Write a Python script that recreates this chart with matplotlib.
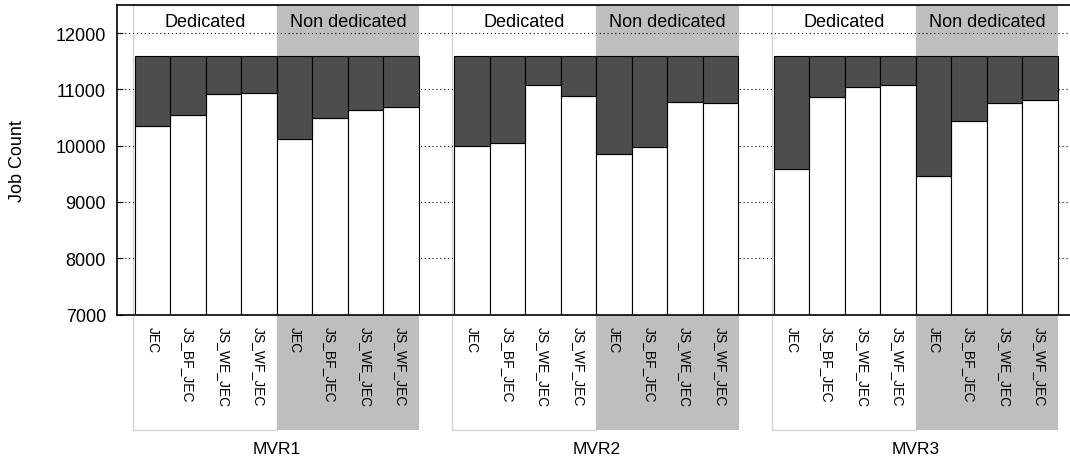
import numpy as np
import matplotlib
matplotlib.use('Agg')
import matplotlib.pyplot as plt
from matplotlib.patches import Rectangle
import matplotlib.transforms as mtransforms

plt.rcParams['font.family'] = ['Liberation Sans', 'DejaVu Sans']

# Job counts per configuration
groups = ['MVR1', 'MVR2', 'MVR3']
modes = ['Dedicated', 'Non dedicated']
schedulers = ['JEC', 'JS_BF_JEC', 'JS_WE_JEC', 'JS_WF_JEC']
total_jobs = 11600
completed = {
    'MVR1': [10350, 10550, 10910, 10930, 10120, 10495, 10630, 10685],
    'MVR2': [9990, 10050, 11080, 10890, 9850, 9980, 10785, 10750],
    'MVR3': [9590, 10865, 11040, 11075, 9460, 10435, 10760, 10810],
}

W, H = 1070, 464
fig = plt.figure(figsize=(W / 100, H / 100), dpi=100)
# axes run a little past the right edge of the figure
ax_w = 27 * 35.5
ax = fig.add_axes([117 / W, (H - 315.5) / H, ax_w / W, 309.5 / H])

n = len(schedulers) * len(modes)
positions, labels = [], []
blend = mtransforms.blended_transform_factory(ax.transData, ax.transAxes)
for g, name in enumerate(groups):
    x = np.arange(n) + g * (n + 1)
    done = np.array(completed[name])
    ax.bar(x, done, width=1.0, color='white', edgecolor='black', linewidth=0.8, zorder=2)
    ax.bar(x, total_jobs - done, bottom=done, width=1.0, color='#4d4d4d',
           edgecolor='black', linewidth=0.8, zorder=2)
    positions.extend(x)
    labels.extend(schedulers * len(modes))

    # mode shading behind bars, reaching down into the label area
    x0 = x[0] - 0.55
    xm = x[0] + 3.5
    x1 = x[-1] + 0.52
    ax.add_patch(Rectangle((x0, -0.373), xm - x0, 1.373, transform=blend,
                           facecolor='white', edgecolor='#d4d4d4', linewidth=1.0,
                           clip_on=False, zorder=0.2))
    ax.add_patch(Rectangle((xm, -0.373), x1 - xm, 1.373, transform=blend,
                           facecolor='#bebebe', edgecolor='none',
                           clip_on=False, zorder=0.2))
    ax.text((x0 + xm) / 2, 0.948, modes[0], transform=blend, ha='center', va='center',
            fontsize=13, zorder=3)
    ax.text((xm + x1) / 2, 0.948, modes[1], transform=blend, ha='center', va='center',
            fontsize=13, zorder=3)
    ax.text((x[0] + x[-1]) / 2, -0.433, name, transform=blend, ha='center', va='center',
            fontsize=12.5, clip_on=False)

ax.set_xlim(-1, 26)
ax.set_ylim(7000, 12500)
ax.set_yticks(range(7000, 12001, 1000))
ax.set_xticks(positions)
ax.set_xticklabels(labels, rotation=270, fontsize=10, va='top', ha='center')
ax.tick_params(axis='x', length=0, pad=8)
ax.tick_params(axis='y', direction='in', length=4.5, width=0.8, right=True,
               labelsize=13, pad=8)
ax.set_ylabel('Job Count', fontsize=13)
ax.yaxis.set_label_coords(-(117 - 26.5) / ax_w, 0.5)

ax.set_axisbelow(True)
ax.yaxis.grid(True, linestyle=(0, (1, 2.5)), color='black', linewidth=0.8)
ax.patch.set_facecolor('white')
for s in ax.spines.values():
    s.set_linewidth(1.2)
    s.set_zorder(4)

fig.savefig('out.png', dpi=100)
